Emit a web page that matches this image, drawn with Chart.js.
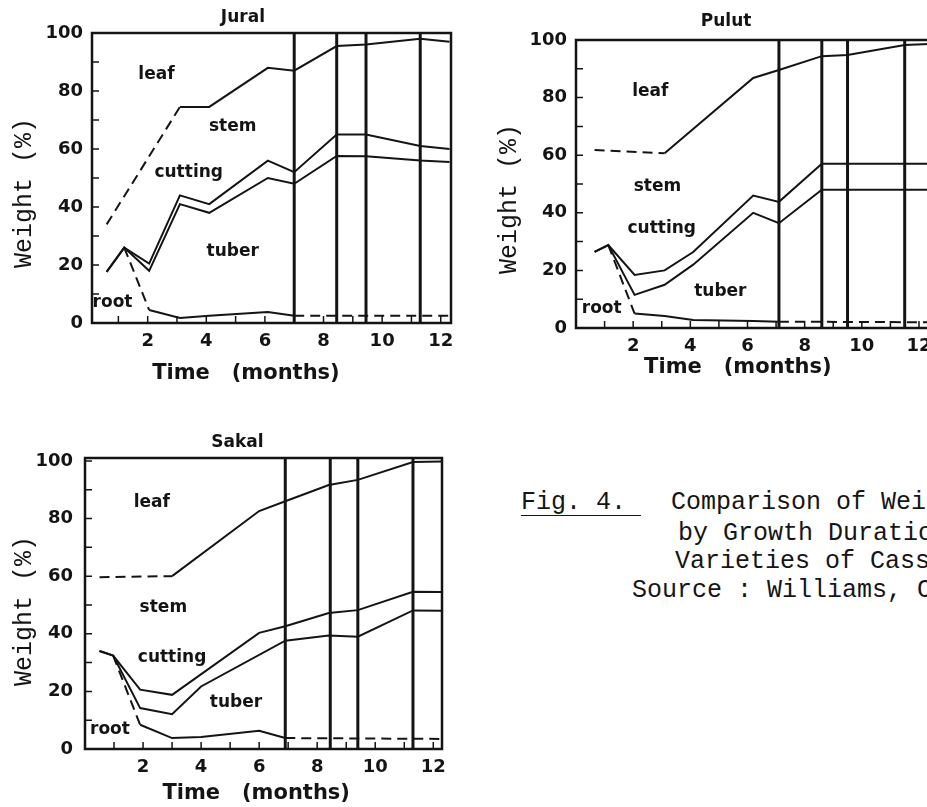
<!DOCTYPE html>
<html>
<head>
<meta charset="utf-8">
<script src="https://cdn.jsdelivr.net/npm/chart.js@4.4.0/dist/chart.umd.min.js"></script>
<style>
  html, body { margin: 0; padding: 0; background: #fff; width: 927px; height: 807px; overflow: hidden; }
  body { position: relative; }
  canvas { position: absolute; }
  .cap { position: absolute; font-family: "Liberation Mono", monospace; font-size: 25px; line-height: 29px; white-space: pre; color: #151515; }
  .cap u { text-underline-offset: 6px; text-decoration-thickness: 1px; }
</style>
</head>
<body>
<canvas id="jural" width="470" height="400" style="left:0;top:0"></canvas>
<canvas id="pulut" width="480" height="400" style="left:470px;top:0"></canvas>
<canvas id="sakal" width="470" height="407" style="left:0;top:400px"></canvas>

<div class="cap" style="left:521px;top:488px"><u>Fig. 4. </u>  Comparison of Weight</div>
<div class="cap" style="left:678px;top:519px">by Growth Duration</div>
<div class="cap" style="left:675px;top:547px">Varieties of Cassava</div>
<div class="cap" style="left:632px;top:576px">Source : Williams, C.</div>

<script>
// ---- data (months after planting, % of total weight; each line is the upper edge of a part) ----
const regionNames = ["leaf", "stem", "cutting", "tuber", "root"];
const monthTicks = [1, 2, 3, 4, 5, 6, 7, 8, 9, 10, 11, 12];
const monthLabels = [2, 4, 6, 8, 10, 12];
const weightTicks = [0, 10, 20, 30, 40, 50, 60, 70, 80, 90, 100];
const weightLabels = [0, 20, 40, 60, 80, 100];

const juralTimes   = [0.6, 1.2, 2.05, 3.1, 4.1, 6.1, 7.0, 8.45, 9.45, 11.3, 12.3];
const juralLeaf    = [34, null, null, 74.5, 74.5, 88, 87, 95.5, 96, 98, 97];
const juralCutting = [17.6, 26, 20.5, 44, 41, 56, 52, 65, 65, 61, 60];
const juralTuber   = [17.6, 26, 18, 41, 38, 50, 48, 57.6, 57.5, 56, 55.5];
const juralRoot    = [null, 26, 4.5, 1.7, 2.5, 3.8, 2.5, null, null, null, 2.5];
const juralHarvest = [7.0, 8.45, 9.45, 11.3];

const pulutTimes   = [0.65, 1.13, 2.05, 3.1, 4.1, 6.2, 7.1, 8.6, 9.5, 11.5, 12.35];
const pulutLeaf    = [61.8, null, null, 60.7, null, 86.8, 89.6, 94.4, 94.8, 98.3, 98.6];
const pulutCutting = [26.4, 28.8, 18.4, 20, 26.4, 46, 43.8, 57, 57, 57, 57];
const pulutTuber   = [26.4, 28.8, 11.5, 15, 22, 40, 36.4, 48, 48, 48, 48];
const pulutRoot    = [null, 28.8, 5, 4.2, 2.8, 2.4, 2.2, null, null, null, 2];
const pulutHarvest = [7.1, 8.6, 9.5, 11.5];

const sakalTimes   = [0.5, 0.97, 1.9, 3.0, 4.0, 6.0, 6.9, 8.4, 9.4, 11.3, 12.3];
const sakalLeaf    = [59.6, null, null, 60, null, 82.6, 86, 91.6, 93.4, 99.6, 99.8];
const sakalCutting = [34, 32.4, 20.6, 18.8, null, 40.3, 42.6, 47.2, 48.2, 54.6, 54.5];
const sakalTuber   = [34, 32.4, 14.2, 12.1, 21.7, null, 37.6, 39.4, 39, 48.1, 48];
const sakalRoot    = [null, 32.4, 8.4, 3.8, 4.2, 6.3, 3.8, null, null, null, 3.5];
const sakalHarvest = [6.9, 8.45, 9.4, 11.3];

// where the part names sit (month, %)
const juralTagX = [2.3, 4.9, 3.4, 4.9, 0.8];
const juralTagY = [85.5, 67.6, 52, 24.5, 7.2];
const pulutTagX = [2.6, 2.85, 3.0, 5.05, 0.9];
const pulutTagY = [82, 49, 34.4, 12.8, 6.9];
const sakalTagX = [2.3, 2.7, 3.0, 5.2, 0.86];
const sakalTagY = [85.7, 49, 31.7, 16, 6.6];

const INK = "#141414";
const SANS = '"DejaVu Sans", sans-serif';
const MONO = '"Liberation Mono", monospace';
const titleMonth = 5.25;

function decor(cfg) {
  return {
    id: "decor",
    afterDatasetsDraw(chart) {
      const { ctx, chartArea: a, scales: { x, y } } = chart;
      ctx.save();
      ctx.strokeStyle = INK;
      ctx.lineWidth = 2.5;
      ctx.strokeRect(a.left, a.top, a.right - a.left, a.bottom - a.top);
      ctx.lineWidth = 1.5;
      ctx.beginPath();
      x.ticks.forEach((t) => {
        const px = x.getPixelForValue(t.value);
        ctx.moveTo(px, a.bottom);
        ctx.lineTo(px, a.bottom - 7);
      });
      y.ticks.forEach((t) => {
        const py = y.getPixelForValue(t.value);
        ctx.moveTo(a.left, py);
        ctx.lineTo(a.left + 7, py);
      });
      ctx.stroke();
      ctx.fillStyle = INK;
      ctx.textAlign = "center";
      ctx.textBaseline = "middle";
      ctx.font = "bold 17px " + SANS;
      regionNames.forEach((n, i) => {
        ctx.fillText(n, x.getPixelForValue(cfg.tagX[i]), y.getPixelForValue(cfg.tagY[i]));
      });
      ctx.fillText(cfg.title, x.getPixelForValue(titleMonth), a.top - cfg.titleGap);
      ctx.restore();
    },
  };
}

function makeChart(id, cfg) {
  const pts = (ys) => cfg.times.map((t, i) => ({ x: t, y: ys[i] }));
  const line = (ys, dashRule) => ({
    data: pts(ys),
    borderColor: INK,
    borderWidth: 2,
    pointRadius: 0,
    spanGaps: true,
    tension: 0,
    segment: {
      borderDash: (c) => (dashRule(c.p0DataIndex, c.p1DataIndex) ? [10, 6] : undefined),
    },
  });
  const datasets = [
    line(cfg.leaf, (a, b) => b <= 3),
    line(cfg.cutting, () => false),
    line(cfg.tuber, () => false),
    line(cfg.root, (a, b) => b <= 2 || a >= 6),
  ];
  cfg.harvest.forEach((h) => {
    datasets.push({
      data: [{ x: h, y: 0 }, { x: h, y: cfg.yMax }],
      borderColor: INK,
      borderWidth: 3,
      pointRadius: 0,
    });
  });

  new Chart(id, {
    type: "line",
    data: { datasets },
    plugins: [decor(cfg)],
    options: {
      responsive: false,
      animation: false,
      devicePixelRatio: 1,
      layout: { padding: { top: cfg.top, right: cfg.padRight, bottom: 0, left: 0 } },
      plugins: { legend: { display: false }, tooltip: { enabled: false }, title: { display: false } },
      scales: {
        x: {
          type: "linear",
          min: cfg.xMin,
          max: cfg.xMax,
          afterFit: (s) => { s.height = cfg.xAxisHeight; },
          afterBuildTicks: (s) => { s.ticks = monthTicks.map((v) => ({ value: v })); },
          grid: { display: false, drawTicks: false },
          border: { display: false },
          ticks: {
            autoSkip: false,
            maxRotation: 0,
            padding: 8,
            color: INK,
            font: { family: SANS, size: 18, weight: "bold" },
            callback: (v) => (monthLabels.includes(v) ? String(v) : ""),
          },
          title: {
            display: true,
            text: "Time   (months)" + " ".repeat(cfg.xTitleShift),
            color: INK,
            font: { family: SANS, size: 21, weight: "bold" },
            padding: { top: 0, bottom: cfg.xTitleBottom },
          },
        },
        y: {
          min: 0,
          max: cfg.yMax,
          afterFit: (s) => { s.width = cfg.yAxisWidth; },
          afterBuildTicks: (s) => { s.ticks = weightTicks.map((v) => ({ value: v })); },
          grid: { display: false, drawTicks: false },
          border: { display: false },
          ticks: {
            autoSkip: false,
            padding: cfg.yTickPad,
            color: INK,
            font: { family: SANS, size: 18, weight: "bold" },
            callback: (v) => (weightLabels.includes(v) ? String(v) : ""),
          },
          title: {
            display: true,
            text: "Weight (%)" + " ".repeat(cfg.yTitleShift),
            color: INK,
            font: { family: MONO, size: 25 },
            padding: { top: cfg.yTitleLeft, bottom: 0 },
          },
        },
      },
    },
  });
}

makeChart("jural", {
  title: "Jural", times: juralTimes, leaf: juralLeaf, cutting: juralCutting,
  tuber: juralTuber, root: juralRoot, harvest: juralHarvest,
  tagX: juralTagX, tagY: juralTagY,
  xMin: 0.1, xMax: 12.35, yMax: 100,
  top: 33, padRight: 19, yAxisWidth: 92, xAxisHeight: 77,
  titleGap: 15, yTickPad: 9, yTitleLeft: 9, yTitleShift: 2,
  xTitleBottom: 14, xTitleShift: 7,
});

makeChart("pulut", {
  title: "Pulut", times: pulutTimes, leaf: pulutLeaf, cutting: pulutCutting,
  tuber: pulutTuber, root: pulutRoot, harvest: pulutHarvest,
  tagX: pulutTagX, tagY: pulutTagY,
  xMin: 0, xMax: 12.35, yMax: 100,
  top: 40, padRight: 21, yAxisWidth: 106, xAxisHeight: 72,
  titleGap: 18, yTickPad: 9, yTitleLeft: 24, yTitleShift: 2,
  xTitleBottom: 20, xTitleShift: 4,
});

makeChart("sakal", {
  title: "Sakal", times: sakalTimes, leaf: sakalLeaf, cutting: sakalCutting,
  tuber: sakalTuber, root: sakalRoot, harvest: sakalHarvest,
  tagX: sakalTagX, tagY: sakalTagY,
  xMin: 0, xMax: 12.3, yMax: 101,
  top: 58, padRight: 28, yAxisWidth: 85, xAxisHeight: 58,
  titleGap: 15, yTickPad: 12, yTitleLeft: 9, yTitleShift: 1,
  xTitleBottom: 1, xTitleShift: 2,
});
</script>
</body>
</html>
